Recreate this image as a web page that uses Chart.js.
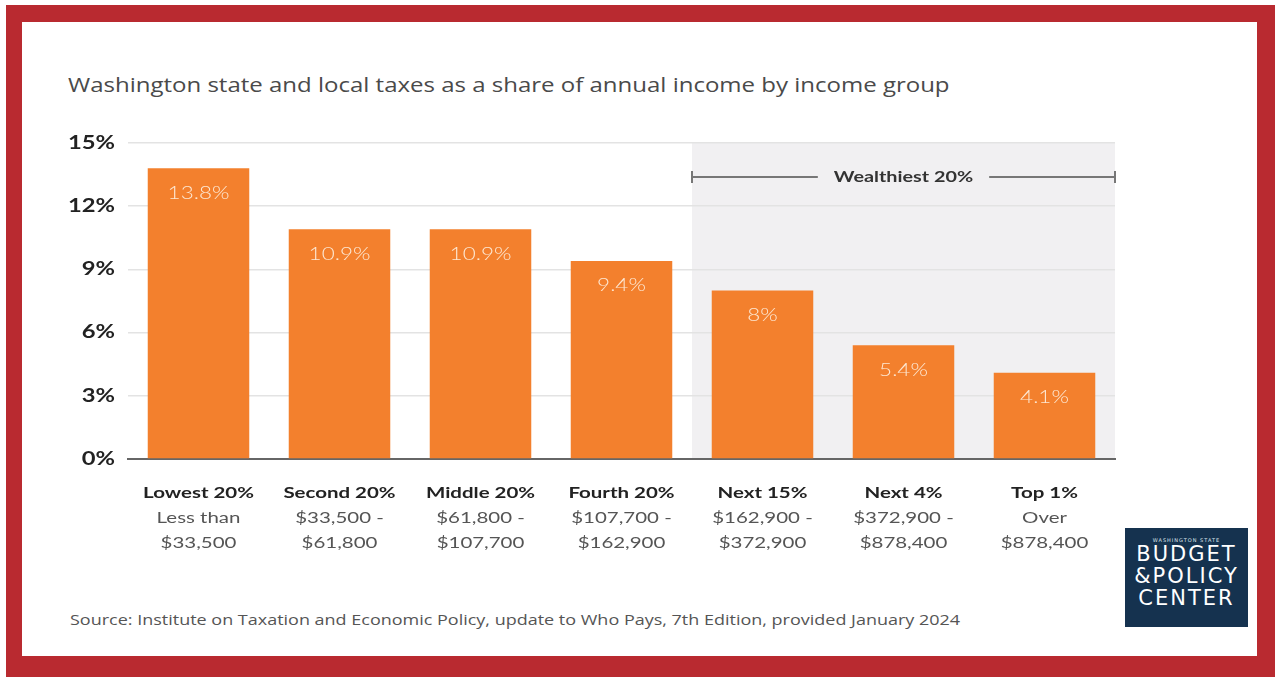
<!DOCTYPE html>
<html>
<head>
<meta charset="utf-8">
<script src="https://cdn.jsdelivr.net/npm/chart.js@4"></script>
<style>
  html, body { margin: 0; padding: 0; background: #ffffff; }
  #frame { position: absolute; left: 0; top: 0; width: 1275px; height: 677px; overflow: hidden; background: #fff; }
  #red { position: absolute; left: 6px; top: 5px; width: 1269px; height: 672px; background: #b92a30; }
  #inner { position: absolute; left: 22px; top: 22px; width: 1235px; height: 634px; background: #fff; }
  #title { position: absolute; left: 68px; top: 71px; font-family: "Open Sans", sans-serif; font-size: 20px; color: #4a4a4a; white-space: nowrap; transform-origin: 0 0; transform: scaleX(1.2); }
  #source { position: absolute; left: 70px; top: 610px; font-family: "Open Sans", sans-serif; font-size: 14.5px; color: #555; white-space: nowrap; transform-origin: 0 0; transform: scaleX(1.24); }
  #logo { position: absolute; left: 1125px; top: 528px; width: 123px; height: 99px; background: #15324f; color: #fff; text-align: center; font-family: "DejaVu Sans", sans-serif; }
  #logo .small { font-size: 5px; letter-spacing: 1px; margin-top: 9px; color: #dfe6ee; }
  #logo .big { font-size: 21px; line-height: 22px; letter-spacing: 2px; font-weight: 400; }
  canvas { position: absolute; left: 0; top: 0; }
</style>
</head>
<body>
<div id="frame">
  <div id="red"></div>
  <div id="inner"></div>
  <div id="title">Washington state and local taxes as a share of annual income by income group</div>
  <div id="source">Source: Institute on Taxation and Economic Policy, update to Who Pays, 7th Edition, provided January 2024</div>
  <div id="logo">
    <div class="small">WASHINGTON STATE</div>
    <div class="big">BUDGET</div>
    <div class="big">&amp;POLICY</div>
    <div class="big">CENTER</div>
  </div>
  <div style="position:absolute;left:0;top:0;width:1275px;height:677px;">
    <canvas id="c" width="1275" height="677"></canvas>
  </div>
</div>
<script>
const groups = ["Lowest 20%", "Second 20%", "Middle 20%", "Fourth 20%", "Next 15%", "Next 4%", "Top 1%"];
const rangeLine1 = ["Less than", "$33,500 -", "$61,800 -", "$107,700 -", "$162,900 -", "$372,900 -", "Over"];
const rangeLine2 = ["$33,500", "$61,800", "$107,700", "$162,900", "$372,900", "$878,400", "$878,400"];
const taxShare = [13.8, 10.9, 10.9, 9.4, 8, 5.4, 4.1];
const yTicks = [0, 3, 6, 9, 12, 15];
const wealthiestLabel = "Wealthiest 20%";
const wealthiestFirstIndex = 4;

const SX = 1.32;
function stretchedText(ctx, text, x, y, sx, align) {
  ctx.save();
  ctx.translate(x, y);
  ctx.scale(sx, 1);
  ctx.textAlign = align;
  ctx.fillText(text, 0, 0);
  ctx.restore();
}

const shadePlugin = {
  id: 'shade',
  beforeDraw(chart) {
    const { ctx, chartArea, scales } = chart;
    const x = scales.x, y = scales.y;
    const step = x.getPixelForValue(1) - x.getPixelForValue(0);
    const left = x.getPixelForValue(wealthiestFirstIndex) - step / 2;
    ctx.save();
    ctx.fillStyle = '#f1f0f2';
    ctx.fillRect(left, y.getPixelForValue(15), chartArea.right - left, y.getPixelForValue(0) - y.getPixelForValue(15));
    ctx.restore();
  },
  afterDatasetsDraw(chart) {
    const { ctx, chartArea, scales } = chart;
    const x = scales.x, y = scales.y;
    const step = x.getPixelForValue(1) - x.getPixelForValue(0);
    const left = x.getPixelForValue(wealthiestFirstIndex) - step / 2;
    const right = chartArea.right;
    const by = y.getPixelForValue(15) + 34;
    ctx.save();
    ctx.textBaseline = 'middle';
    // y tick labels
    ctx.font = 'bold 18px Lato, sans-serif';
    ctx.fillStyle = '#222';
    yTicks.forEach(v => {
      stretchedText(ctx, v + '%', chartArea.left - 13, y.getPixelForValue(v), SX, 'right');
    });
    // bracket
    ctx.font = 'bold 15px Lato, sans-serif';
    const mid = (left + right) / 2;
    const tw = ctx.measureText(wealthiestLabel).width * SX;
    ctx.strokeStyle = '#777';
    ctx.lineWidth = 2;
    ctx.beginPath();
    ctx.moveTo(left, by); ctx.lineTo(mid - tw / 2 - 16, by);
    ctx.moveTo(mid + tw / 2 + 16, by); ctx.lineTo(right, by);
    ctx.moveTo(left, by - 6); ctx.lineTo(left, by + 6);
    ctx.moveTo(right, by - 6); ctx.lineTo(right, by + 6);
    ctx.stroke();
    ctx.fillStyle = '#333';
    stretchedText(ctx, wealthiestLabel, mid, by, SX, 'center');
    // value labels
    const meta = chart.getDatasetMeta(0);
    ctx.font = '300 17px Lato, sans-serif';
    ctx.fillStyle = '#fde8d4';
    meta.data.forEach((bar, i) => {
      stretchedText(ctx, taxShare[i] + '%', bar.x, bar.y + 25, SX, 'center');
    });
    // category labels
    groups.forEach((g, i) => {
      const cx = x.getPixelForValue(i);
      const baseY = y.getPixelForValue(0);
      ctx.font = 'bold 15.5px Lato, sans-serif';
      ctx.fillStyle = '#222';
      stretchedText(ctx, g, cx, baseY + 34, SX, 'center');
      ctx.font = '15.5px Lato, sans-serif';
      ctx.fillStyle = '#555';
      stretchedText(ctx, rangeLine1[i], cx, baseY + 59, SX, 'center');
      stretchedText(ctx, rangeLine2[i], cx, baseY + 84, SX, 'center');
    });
    ctx.restore();
  }
};

new Chart(document.getElementById('c'), {
  type: 'bar',
  data: {
    labels: groups,
    datasets: [{
      data: taxShare,
      backgroundColor: '#f3802d',
      borderWidth: 0,
      categoryPercentage: 1,
      barPercentage: 0.72
    }]
  },
  options: {
    responsive: false,
    animation: false,
    devicePixelRatio: 1,
    layout: { padding: { left: 60, right: 160, top: 143, bottom: 0 } },
    plugins: { legend: { display: false }, tooltip: { enabled: false } },
    scales: {
      x: {
        grid: { display: false },
        border: { display: true, color: '#666', width: 2 },
        ticks: { display: false },
        afterFit(s) { s.height = 677 - 459; }
      },
      y: {
        min: 0, max: 15,
        afterBuildTicks(s) { s.ticks = yTicks.map(v => ({ value: v })); },
        afterFit(s) { s.width = 68; },
        border: { display: false },
        grid: { color: '#e3e3e3', lineWidth: 1.5, drawTicks: false },
        ticks: { display: false }
      }
    }
  },
  plugins: [shadePlugin]
});
</script>
</body>
</html>
